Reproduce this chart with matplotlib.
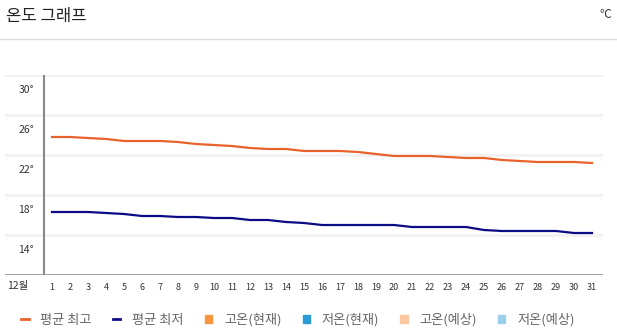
import matplotlib
matplotlib.use('Agg')
import matplotlib.pyplot as plt
from matplotlib.lines import Line2D
from matplotlib.patches import Patch

plt.rcParams['font.family'] = ['Noto Sans CJK KR', 'DejaVu Sans']

# 데이터
days = list(range(1, 32))
avg_high = [23.8, 23.8, 23.7, 23.6, 23.4, 23.4, 23.4, 23.3, 23.1, 23.0,
            22.9, 22.7, 22.6, 22.6, 22.4, 22.4, 22.4, 22.3, 22.1, 21.9,
            21.9, 21.9, 21.8, 21.7, 21.7, 21.5, 21.4, 21.3, 21.3, 21.3, 21.2]
avg_low = [16.3, 16.3, 16.3, 16.2, 16.1, 15.9, 15.9, 15.8, 15.8, 15.7,
           15.7, 15.5, 15.5, 15.3, 15.2, 15.0, 15.0, 15.0, 15.0, 15.0,
           14.8, 14.8, 14.8, 14.8, 14.5, 14.4, 14.4, 14.4, 14.4, 14.2, 14.2]
y_grid = [14, 18, 22, 26, 30]
month_label = '12월'
legend_labels = ['평균 최고', '평균 최저', '고온(현재)', '저온(현재)', '고온(예상)', '저온(예상)']

W, H = 617, 335
fig = plt.figure(figsize=(W / 100, H / 100), dpi=100)

# 제목 영역
fig.text(6 / W, 1 - 16 / H, '온도 그래프', fontsize=12, color='#222222', va='center', ha='left')
fig.text(611 / W, 1 - 15 / H, '℃', fontsize=8.5, color='#333333', va='center', ha='right')
fig.add_artist(Line2D([0, 1], [1 - 39 / H, 1 - 39 / H], color='#dddddd', lw=1))

# 그래프
ax = fig.add_axes([5 / W, 1 - 275 / H, 598 / W, 200 / H])
ax.set_xlim(1 - 47 / 18, 1 + 551 / 18)
ax.set_ylim(10, 30)
for s in ax.spines.values():
    s.set_visible(False)

for g in y_grid:
    ax.axhline(g, color='#f0f0f0', lw=1.8, zorder=0)
    ax.text(0, g - 1.5, '%d°' % g, fontsize=7.5, color='#333333', ha='right', va='center')
ax.axhline(10, color='#888888', lw=1.8, zorder=1)
ax.plot([1 - 8 / 18, 1 - 8 / 18], [10, 30], color='#888888', lw=1.5, zorder=1)

ax.plot(days, avg_high, color='#e8622c', lw=1.6, zorder=3)
ax.plot(days, avg_low, color='#0b0b86', lw=1.6, zorder=3)

ax.set_yticks([])
ax.set_xticks(days)
ax.set_xticklabels([str(d) for d in days], fontsize=6.5, color='#333333')
ax.tick_params(axis='x', length=0, pad=6)
ax.text(1 + (18 - 52) / 18, 10 - 0.55, month_label, fontsize=7.5, color='#333333',
        ha='center', va='top')

# 범례
handles = [
    Line2D([], [], color='#e8622c', lw=2),
    Line2D([], [], color='#0b0b86', lw=2),
    Patch(color='#f7963d'),
    Patch(color='#2b9bd3'),
    Patch(color='#fcc8a0'),
    Patch(color='#9bcfea'),
]
leg = fig.legend(handles, legend_labels, loc='center', ncol=6, frameon=False,
                 bbox_to_anchor=(298 / W, 1 - 320 / H), fontsize=9.5,
                 handlelength=0.55, handleheight=0.55, handletextpad=0.9,
                 columnspacing=1.6)
for t in leg.get_texts():
    t.set_color('#666666')

fig.savefig('out.png', dpi=100)
